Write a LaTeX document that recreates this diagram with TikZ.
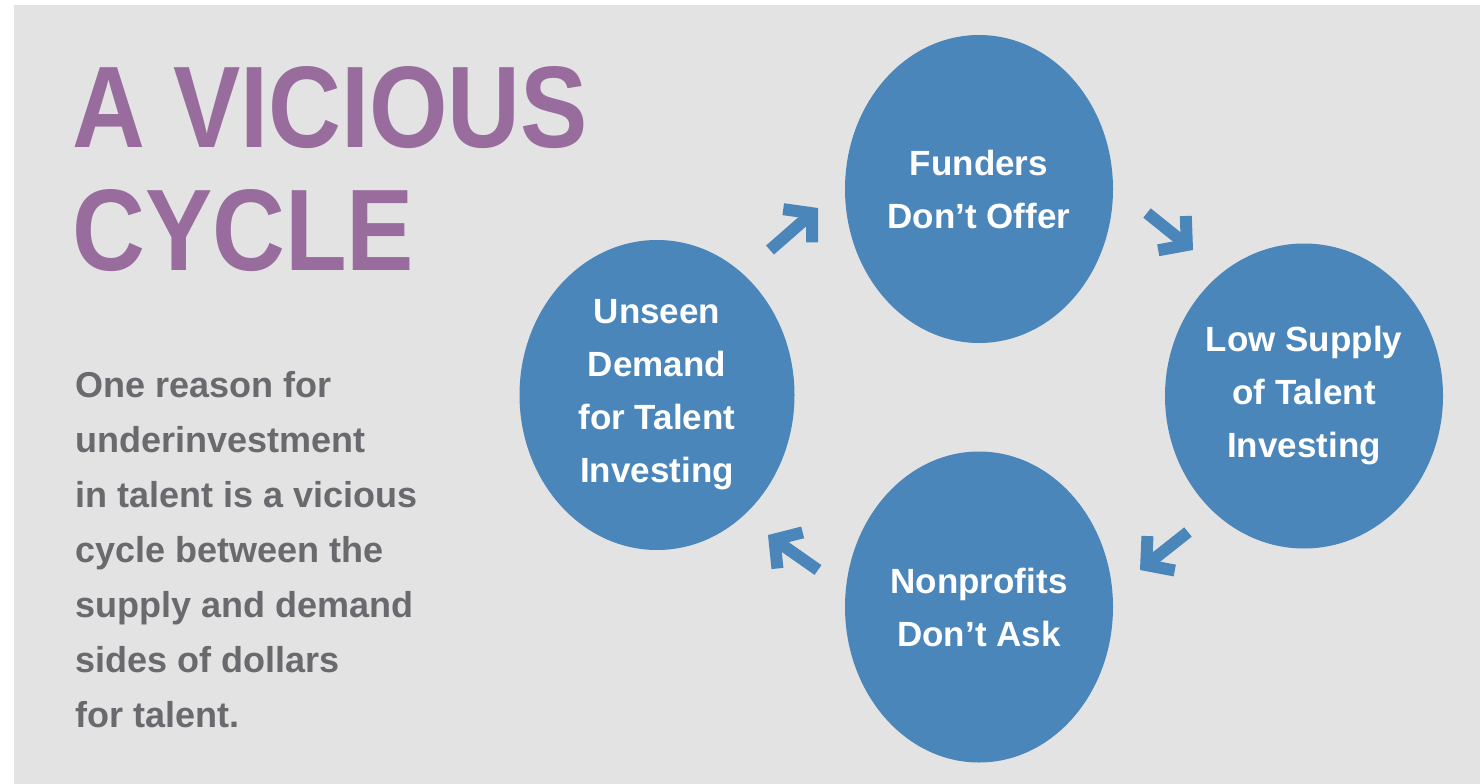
\documentclass[tikz,border=0pt]{standalone}
\usepackage{fontspec}
\setmainfont{Liberation Sans}
\newfontfamily\titlefont[FakeStretch=0.87]{Liberation Sans}
\usetikzlibrary{shapes.geometric,arrows.meta}
\definecolor{cycblue}{RGB}{74,134,186}
\definecolor{bggray}{RGB}{227,227,227}
\definecolor{txtgray}{RGB}{105,105,110}
\definecolor{titlepurple}{RGB}{152,108,156}
\tikzset{
  cyc/.style={ellipse,fill=cycblue,text=white,inner sep=0pt,align=center,
    font=\bfseries\fontsize{35}{53}\selectfont},
  cycarrow/.style={draw=cycblue,line width=12pt,
    -{Straight Barb[length=19pt,width=44pt,line join=miter,line cap=butt]}}
}

\begin{document}
\begin{tikzpicture}[x=1pt,y=-1pt]
\useasboundingbox (0,0) rectangle (1480,784);
\fill[white] (0,0) rectangle (1480,784);
\fill[bggray] (14,5) rectangle (1480,784);
% title and text on the left
\node[anchor=north west,inner sep=0pt,align=left,text=titlepurple,
  font=\titlefont\bfseries\fontsize{116}{123}\selectfont] (title) at (72,66)
  {A VICIOUS\\CYCLE};
\node[anchor=north west,inner sep=0pt,align=left,text=txtgray,
  font=\bfseries\fontsize{36}{55}\selectfont] (reason) at (75,371)
  {One reason for\\underinvestment\\in talent is a vicious\\cycle between the\\supply and demand\\sides of dollars\\for talent.};
% the four circles
\node[cyc,minimum width=268pt,minimum height=308pt] (funders) at (979,189) {Funders\\Don’t Offer};
\node[cyc,minimum width=278pt,minimum height=305pt] (lowsupply) at (1304,396) {Low Supply\\of Talent\\Investing};
\node[cyc,minimum width=268pt,minimum height=311pt] (nonprofits) at (979,607) {Nonprofits\\Don’t Ask};
\node[cyc,minimum width=275pt,minimum height=310pt] (unseen) at (657,395) {Unseen\\Demand\\for Talent\\Investing};
% arrows between them
\coordinate (a1s) at (770,250);
\coordinate (a1e) at (818,208);
\coordinate (a2s) at (1147,213);
\coordinate (a2e) at (1193,250);
\coordinate (a3s) at (1188,532);
\coordinate (a3e) at (1140,570);
\coordinate (a4s) at (818,570);
\coordinate (a4e) at (768,535);
\draw[cycarrow] (a1s) -- (a1e);
\draw[cycarrow] (a2s) -- (a2e);
\draw[cycarrow] (a3s) -- (a3e);
\draw[cycarrow] (a4s) -- (a4e);
\end{tikzpicture}
\end{document}
